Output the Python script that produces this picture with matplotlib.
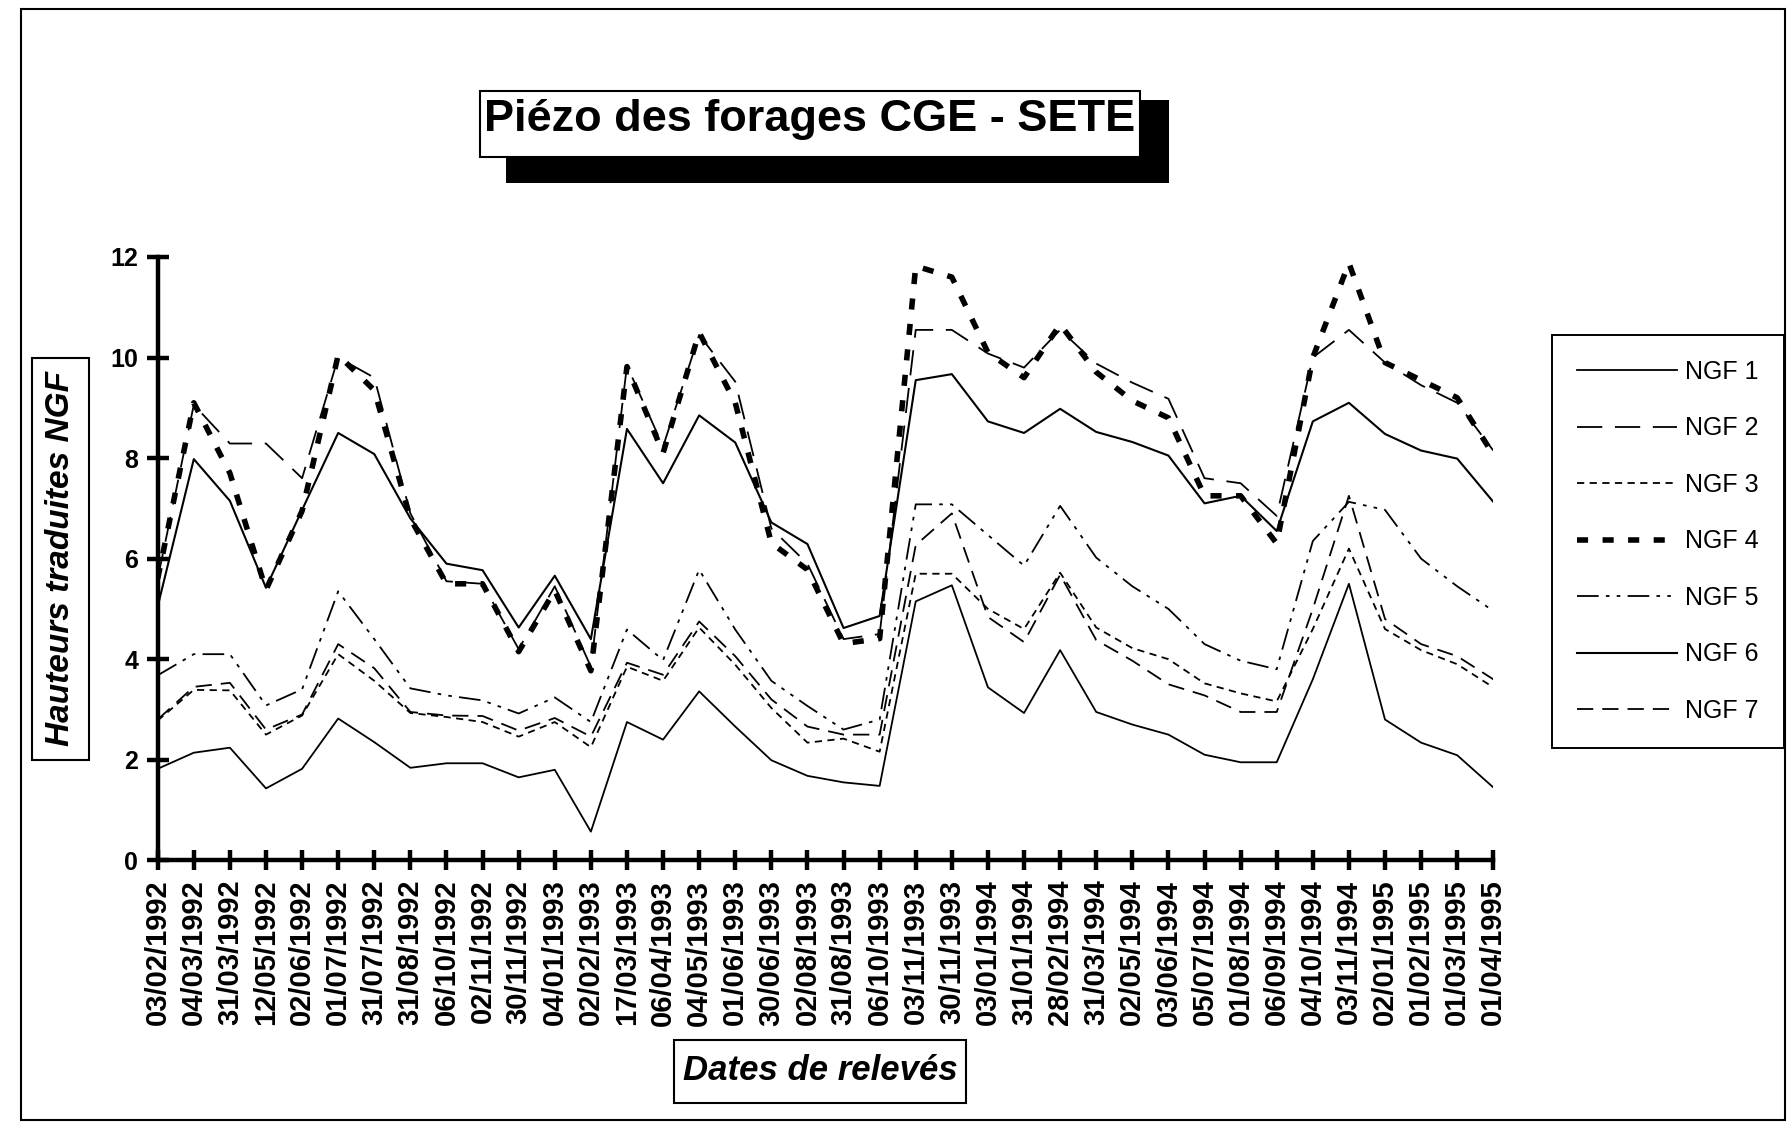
import matplotlib
matplotlib.use("Agg")
import matplotlib.pyplot as plt
from matplotlib.patches import Rectangle

#%% Données
dates = ["03/02/1992", "04/03/1992", "31/03/1992", "12/05/1992", "02/06/1992",
         "01/07/1992", "31/07/1992", "31/08/1992", "06/10/1992", "02/11/1992",
         "30/11/1992", "04/01/1993", "02/02/1993", "17/03/1993", "06/04/1993",
         "04/05/1993", "01/06/1993", "30/06/1993", "02/08/1993", "31/08/1993",
         "06/10/1993", "03/11/1993", "30/11/1993", "03/01/1994", "31/01/1994",
         "28/02/1994", "31/03/1994", "02/05/1994", "03/06/1994", "05/07/1994",
         "01/08/1994", "06/09/1994", "04/10/1994", "03/11/1994", "02/01/1995",
         "01/02/1995", "01/03/1995", "01/04/1995"]

ngf1 = [1.82, 2.14, 2.24, 1.43, 1.82, 2.82, 2.35, 1.84, 1.93, 1.93,
        1.65, 1.8, 0.57, 2.75, 2.4, 3.36, 2.66, 1.99, 1.68, 1.55,
        1.48, 5.15, 5.47, 3.44, 2.93, 4.18, 2.95, 2.7, 2.5, 2.1,
        1.95, 1.95, 3.6, 5.5, 2.8, 2.34, 2.09, 1.45]
ngf2 = [5.6, 9.06, 8.29, 8.29, 7.6, 10.0, 9.6, 6.9, 5.55, 5.5,
        4.2, 5.45, 3.85, 9.84, 8.23, 10.45, 9.52, 6.6, 5.9, 4.4,
        4.5, 10.55, 10.55, 10.08, 9.8, 10.55, 9.88, 9.5, 9.18, 7.6,
        7.5, 6.85, 10.0, 10.55, 9.9, 9.45, 9.1, 8.15]
ngf3 = [2.78, 3.39, 3.38, 2.5, 2.88, 4.1, 3.57, 2.93, 2.85, 2.75,
        2.46, 2.75, 2.25, 3.85, 3.57, 4.63, 3.89, 3.03, 2.34, 2.42,
        2.16, 5.7, 5.7, 5.0, 4.6, 5.72, 4.63, 4.22, 4.0, 3.52,
        3.32, 3.16, 4.6, 6.2, 4.6, 4.18, 3.9, 3.44]
ngf4 = [5.6, 9.1, 7.7, 5.38, 6.95, 10.05, 9.35, 6.8, 5.5, 5.5,
        4.15, 5.37, 3.77, 9.82, 8.1, 10.5, 9.1, 6.31, 5.78, 4.31,
        4.41, 11.82, 11.6, 10.1, 9.6, 10.66, 9.71, 9.14, 8.8, 7.25,
        7.25, 6.3, 10.0, 11.88, 9.9, 9.55, 9.2, 8.07]
ngf5 = [3.68, 4.1, 4.1, 3.08, 3.4, 5.35, 4.4, 3.42, 3.28, 3.18,
        2.92, 3.24, 2.75, 4.59, 3.98, 5.78, 4.59, 3.57, 3.07, 2.6,
        2.8, 7.08, 7.08, 6.47, 5.86, 7.05, 6.02, 5.45, 5.0, 4.3,
        3.97, 3.8, 6.35, 7.13, 6.97, 6.0, 5.45, 4.96]
ngf6 = [5.05, 7.98, 7.15, 5.42, 6.97, 8.5, 8.08, 6.8, 5.9, 5.77,
        4.63, 5.66, 4.4, 8.58, 7.5, 8.85, 8.31, 6.72, 6.29, 4.62,
        4.86, 9.55, 9.67, 8.73, 8.5, 8.98, 8.52, 8.32, 8.05, 7.1,
        7.25, 6.55, 8.73, 9.1, 8.48, 8.15, 7.99, 7.13]
ngf7 = [2.8, 3.45, 3.53, 2.6, 2.9, 4.3, 3.82, 2.95, 2.88, 2.87,
        2.58, 2.83, 2.46, 3.93, 3.69, 4.75, 4.06, 3.2, 2.66, 2.5,
        2.5, 6.27, 6.9, 4.84, 4.34, 5.68, 4.38, 3.97, 3.5, 3.28,
        2.95, 2.95, 5.0, 7.25, 4.8, 4.3, 4.06, 3.6]

series = [("NGF 1", ngf1), ("NGF 2", ngf2), ("NGF 3", ngf3), ("NGF 4", ngf4),
          ("NGF 5", ngf5), ("NGF 6", ngf6), ("NGF 7", ngf7)]

# Style de trait de chaque courbe
styles = {
    "NGF 1": dict(linestyle="-", linewidth=1.3),
    "NGF 2": dict(dashes=(14, 7), linewidth=1.3),
    "NGF 3": dict(dashes=(4, 3), linewidth=1.3),
    "NGF 4": dict(dashes=(2.0, 2.6), linewidth=4.0),
    "NGF 5": dict(dashes=(12, 4, 2, 4, 2, 4), linewidth=1.3),
    "NGF 6": dict(linestyle="-", linewidth=1.5),
    "NGF 7": dict(dashes=(9, 5), linewidth=1.3),
}

plt.rcParams["font.family"] = ["Liberation Sans", "DejaVu Sans"]

W, H = 1792, 1123


# Conversion pixels (depuis le coin haut-gauche) -> fraction de figure
def fx(x):
    return x / W


def fy(y):
    return 1 - y / H


def boite(fig, x0, y0, x1, y1, lw=1.5, fc="white", z=1):
    r = Rectangle((fx(x0), fy(y1)), fx(x1) - fx(x0), fy(y0) - fy(y1),
                  transform=fig.transFigure, facecolor=fc, edgecolor="black",
                  linewidth=lw, zorder=z)
    fig.patches.append(r)


#%% Graphique
fig = plt.figure(figsize=(W / 100, H / 100), dpi=100)
ax = fig.add_axes([fx(157.7), fy(860.3), fx(1493.3) - fx(157.7), fy(257) - fy(860.3)])

x = list(range(len(dates)))
for nom, vals in series:
    ax.plot(x, vals, color="black", label=nom, **styles[nom])

ax.set_xlim(0, len(dates) - 1)
ax.set_ylim(0, 12)
ax.set_yticks(range(0, 13, 2))
ax.set_xticks(x)
ax.set_xticklabels(dates, rotation=90, fontsize=21, fontweight="bold")
for t in ax.get_yticklabels():
    t.set_fontsize(18)
    t.set_fontweight("bold")

for s in ["top", "right"]:
    ax.spines[s].set_visible(False)
for s in ["left", "bottom"]:
    ax.spines[s].set_linewidth(3.2)
ax.tick_params(axis="both", direction="inout", width=3.2, colors="black")
ax.tick_params(axis="y", length=16, pad=6)
ax.tick_params(axis="x", length=14, pad=7)

# Légende
leg = ax.legend(loc="upper left", bbox_to_anchor=(fx(1551.5), fy(334.8)),
                bbox_transform=fig.transFigure, borderaxespad=0, fontsize=18,
                frameon=True, fancybox=False, edgecolor="black", framealpha=1,
                handlelength=4.0, labelspacing=1.3, borderpad=1.0,
                handletextpad=0.35)
leg.get_frame().set_linewidth(1.4)

# Cadre extérieur
boite(fig, 20.5, 9, 1785, 1120, lw=1.5, fc="none", z=0)

# Titre avec ombre portée
boite(fig, 506, 100.5, 1169, 183, lw=0, fc="black", z=2)
boite(fig, 480, 91.4, 1140, 156.5, lw=1.5, fc="white", z=3)
fig.text(fx(810), fy(131), "Piézo des forages CGE - SETE", ha="center",
         va="baseline", fontsize=32.5, fontweight="bold", zorder=4)

# Titres des axes dans leurs cadres
boite(fig, 32, 357.6, 89, 760, lw=1.5, z=2)
fig.text(fx(61), fy(559), "Hauteurs traduites NGF", rotation=90, ha="center",
         va="center", fontsize=24, fontweight="bold", fontstyle="italic", zorder=4)

boite(fig, 674, 1040, 965.5, 1102.5, lw=1.5, z=2)
fig.text(fx(820), fy(1071), "Dates de relevés", ha="center", va="center",
         fontsize=25, fontweight="bold", fontstyle="italic", zorder=4)

fig.savefig("out.png", dpi=100, facecolor="white")
